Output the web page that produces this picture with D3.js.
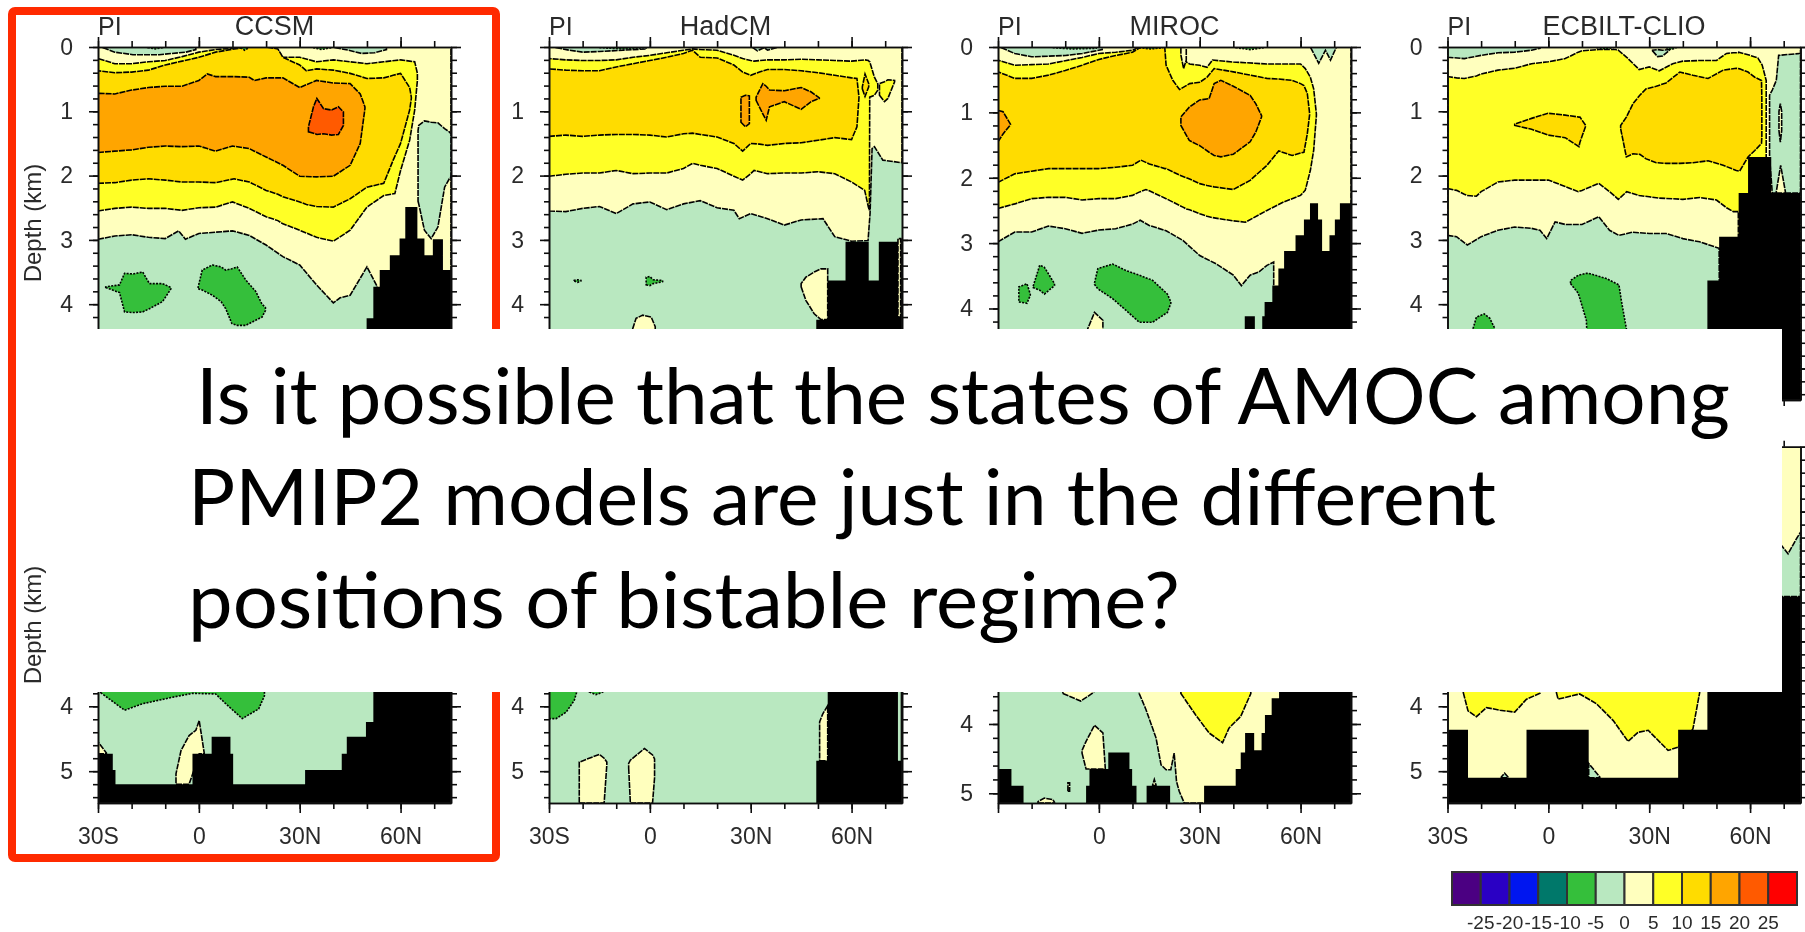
<!DOCTYPE html>
<html>
<head>
<meta charset="utf-8">
<script src="https://cdn.jsdelivr.net/npm/d3@7"></script>
<style>
  body { margin: 0; background: #fff; }
  svg { display: block; }
  text { font-family: "Liberation Sans", Arial, sans-serif; fill: #2b2b2b; }
  .slide text { font-family: Lato, sans-serif; fill: #000; }
</style>
</head>
<body>
<svg id="chart" width="1805" height="932"></svg>
<script>
// legend
const legendBreaks = [-25, -20, -15, -10, -5, 0, 5, 10, 15, 20, 25];
const latMajor = [-30, 0, 30, 60];
const depthMajor = [0, 1, 2, 3, 4, 5];
const noteLines = [
    'Is it possible that the states of AMOC among',
    'PMIP2 models are just in the different',
    'positions of bistable regime?'
];

// every region is a list of [lat, upper depth, lower depth]
// floors are [lat where the step starts, depth of the step]

// ---- CCSM, PI
const ccsmBand0 = [[-30,0,2.99],[-25,0,2.94],[-20,0,2.92],[-15,0,2.96],[-10,0,2.98],[-6,0,2.86],[-4,0,2.99],[0,0,2.90],[5,0,2.88],[10,0,2.86],[15,0,2.93],[20,0,3.08],[25,0,3.26],[30,0,3.39],[35,0,3.70],[40,0,3.98],[42,0,3.90],[45,0,3.86],[50,0,3.42],[53,0,3.72],[53.1,0,5.49],[75,0,5.49]];
const ccsmBand5 = [[-30,.18,2.55],[-25,.26,2.51],[-20,.26,2.49],[-15,.23,2.51],[-10,.21,2.51],[-5,.15,2.54],[0,.08,2.50],[5,.04,2.49],[10,.02,2.41],[15,0,2.51],[20,0,2.64],[23.5,.05,2.70],[25,.16,2.75],[30,.16,2.85],[35,.23,2.96],[40,.20,3.02],[45,.23,2.85],[50,.26,2.49],[55,.23,2.31],[58.3,.21,2.28],[60,.20,1.92],[62.7,.22,1.45],[64.2,.23,.98],[65,.41,.52]];
const ccsmBand10 = [[-30,.37,2.12],[-25,.40,2.11],[-20,.39,2.07],[-15,.36,2.05],[-10,.28,2.07],[-5,.22,2.10],[0,.16,2.10],[5,.08,2.11],[10.5,.03,2.05],[15,0,2.10],[20,0,2.23],[23.5,.03,2.29],[25,.16,2.33],[30,.28,2.41],[32,.37,2.45],[35,.34,2.48],[40,.36,2.49],[45,.41,2.36],[50,.49,2.18],[55,.48,2.12],[57.8,.44,1.76],[60,.41,1.50],[62.7,.63,.98],[63.2,.78,.80]];
const ccsmBand15 = [[-30,.72,1.64],[-25,.73,1.62],[-20,.67,1.60],[-15,.63,1.56],[-10,.61,1.54],[-5,.61,1.55],[0,.52,1.54],[2.5,.42,1.58],[5,.46,1.62],[10,.46,1.54],[15,.47,1.58],[16.5,.52,1.62],[20,.48,1.71],[25,.48,1.84],[30,.63,2.01],[35,.52,2.02],[40,.56,2.01],[45,.57,1.84],[48,.73,1.50],[49.4,.93,.96]];
const ccsmBand20 = [[32.6,1.24,1.32],[34.1,.93,1.34],[35.1,.80,1.36],[37.1,.96,1.35],[39.5,.98,1.37],[41.5,.93,1.36],[43,1.01,1.22]];
const ccsmArctic = [[65.2,1.30,2.40],[65.4,1.22,2.44],[67.1,1.15,2.85],[69.1,1.17,2.98],[71.1,1.18,2.80],[73.1,1.27,2.18],[74.5,1.32,2.05],[75,1.35,2.02]];
const ccsmLensA = [[-28.5,0,.01],[-25,0,.08],[-19.6,0,.12],[-11.8,0,.12],[-3.9,0,.08],[-.9,0,.04]];
const ccsmLensB = [[40.5,0,.01],[44.5,0,.05],[48.4,0,.10],[52.3,0,.09],[55.8,0,.04]];
const ccsmSurfaceA = [[-15.2,0,.01],[-13,0,.03],[-10.8,0,.01]];
const ccsmSurfaceB = [[12.4,0,.01],[13.6,0,.05],[14.9,0,.01]];
const ccsmSurfaceC = [[34,0,.01],[36.5,0,.04],[39.5,0,.01]];
const ccsmGreenA = [[-27.7,3.73,3.74],[-23.6,3.70,3.82],[-22.1,3.52,4.12],[-19.6,3.53,4.13],[-16.7,3.50,4.12],[-14.7,3.68,4.07],[-10.8,3.68,3.96],[-8.3,3.74,3.76]];
const ccsmGreenB = [[-.2,3.73,3.76],[1,3.47,3.78],[4,3.39,3.86],[6.6,3.42,3.96],[8,3.47,4.07],[9.8,3.45,4.30],[11.4,3.42,4.33],[13.9,3.62,4.33],[16.9,3.80,4.25],[18.8,4.00,4.20],[19.8,4.05,4.10]];
const ccsmFloor = [[-30,5.49],[49.9,4.22],[51.9,3.73],[53.8,3.47],[56.8,3.24],[59.7,2.98],[61.4,2.49],[65,2.98],[67.1,3.24],[69.6,2.99],[72.6,3.47]];

// ---- CCSM, lower panel
const ccsmLowGreen = [[-29.2,3.5,3.79],[-22.1,3.5,4.06],[-16.7,3.5,3.96],[-7.8,3.5,3.86],[-1.9,3.5,3.80],[5,3.5,3.81],[8,3.5,3.96],[12.9,3.5,4.19],[17.8,3.5,4.04],[19.5,3.5,3.84],[19.6,3.5,3.5]];
const ccsmLowPaleA = [[-30,4.55,4.73],[-28.5,4.65,4.73],[-27.5,4.72,4.73]];
const ccsmLowPaleB = [[-6.8,5.04,5.2],[-5.3,4.68,5.2],[-2.9,4.45,5.2],[-.9,4.37,4.9],[.1,4.22,4.73],[1.6,4.72,4.73]];
const ccsmLowFloor = [[-30,4.73],[-25.6,4.98],[-24.8,5.2],[-1.9,4.73],[3.8,4.47],[9.4,4.73],[10.2,5.2],[31.6,4.98],[42.5,4.73],[44,4.47],[49.7,4.24],[51.9,3.5]];

// ---- HadCM, PI
const hadBand0 = [[-30,0,2.55],[-25,0,2.56],[-20,0,2.51],[-15,0,2.48],[-10,0,2.59],[-5,0,2.44],[0,0,2.41],[5,0,2.53],[10,0,2.44],[15,0,2.39],[20,0,2.50],[25,0,2.54],[26.6,0,2.67],[30,0,2.59],[35,0,2.67],[40,0,2.77],[45,0,2.69],[51.5,0,2.67],[55,0,2.95],[60,0,3.02],[64.9,0,3.01],[65.5,0,2.59],[66.1,0,1.58],[66.8,0,1.55],[69.3,0,1.76],[75,0,1.80]];
const hadBand5 = [[-30,.18,2.01],[-25,.20,1.98],[-20,.21,1.96],[-15,.21,1.96],[-10,.20,1.92],[-5,.16,1.97],[0,.13,1.96],[5,.09,1.96],[10,.05,1.89],[12.7,.03,1.81],[15,.04,1.84],[20,.05,1.89],[25,.13,2.01],[27.6,.18,2.07],[30,.21,1.97],[31,.22,1.92],[35,.20,1.97],[40,.20,1.96],[45,.19,1.96],[50,.20,1.94],[55,.21,1.97],[60,.22,2.10],[63.9,.20,2.23],[65,.21,2.49],[65.3,.23,2.54],[65.4,.23,.78],[66.8,.47,.75],[67.8,.57,.67]];
const hadPatch = [[68.3,.57,.75],[69.8,.54,.85],[70.8,.51,.80],[72.8,.52,.54]];
const hadBand10 = [[-30,.34,1.39],[-25,.36,1.37],[-20,.37,1.39],[-15,.37,1.37],[-10,.31,1.36],[-5,.26,1.36],[0,.21,1.37],[5,.16,1.40],[10,.10,1.35],[12.7,.05,1.34],[15,.16,1.36],[20,.17,1.40],[25,.28,1.50],[27.6,.39,1.62],[30,.44,1.50],[32.6,.39,1.51],[35,.35,1.53],[40,.35,1.50],[45,.37,1.49],[50,.40,1.45],[55,.44,1.41],[60,.48,1.44],[61.6,.49,1.24],[62.2,.78,.79]];
const hadLens = [[63.2,.62,.65],[64,.42,.77],[65.1,.57,.62]];
const hadOrangeA = [[27.1,.78,1.17],[28.4,.75,1.24],[29.6,.76,1.19]];
const hadOrangeB = [[31.6,.78,.83],[33.6,.57,1.04],[34.6,.61,1.14],[35.6,.67,.93],[40,.68,.85],[45,.63,.97],[48,.70,.85],[50.4,.79,.80]];
const hadTop = [[-27.9,0,.01],[-24,0,.05],[-20,0,.08],[-15,0,.07],[-8,0,.05],[-1.1,0,.03]];
const hadTopB = [[30.6,0,.01],[32,0,.06],[34,0,.01],[35,0,.05],[37.6,0,.01]];
const hadSurface = [[-15,0,.01],[-8,0,.03],[-1.1,0,.01]];
const hadSpeckA = [[-22.5,3.63,3.64],[-21.5,3.62,3.66],[-20.5,3.63,3.64]];
const hadSpeckB = [[-1.1,3.58,3.70],[0,3.57,3.71],[1,3.62,3.68],[3.8,3.63,3.65]];
const hadPaleA = [[45,3.68,3.73],[46.4,3.58,3.94],[48.9,3.50,4.15],[50.9,3.45,4.24],[52.9,3.45,4.24]];
const hadPaleB = [[-5.1,4.38,4.5],[-4.1,4.22,4.5],[-2.1,4.17,4.6],[.4,4.20,4.6],[1.6,4.35,4.5]];
const hadSliver = [[73.8,2.98,4.2],[74.6,2.98,4.2]];
const hadFloor = [[-30,5.49],[49.5,4.24],[52.9,3.63],[58.2,3.03],[65.1,3.63],[68.1,3.03],[73.8,4.2],[74.6,2.98]];

// ---- HadCM, lower panel
const hadLowGreen = [[-30,3.5,4.19],[-27.9,3.5,4.19],[-24.9,3.5,4.09],[-22.5,3.5,3.91],[-21.8,3.5,3.79]];
const hadLowSpeck = [[-18,3.5,3.78],[-16,3.5,3.82],[-14,3.5,3.78]];
const hadLowPaleA = [[-21,4.86,5.49],[-15,4.74,5.49],[-13.6,4.80,5.49],[-12.8,4.86,4.9]];
const hadLowPaleB = [[-6.3,4.88,4.95],[-5.8,4.83,5.49],[-1.6,4.65,5.49],[.8,4.75,5.49],[1.4,4.81,5.1]];
const hadLowPaleC = [[50.5,4.24,4.84],[51.4,4.12,4.84],[52.9,3.99,4.84]];
const hadLowFloor = [[-30,5.49],[49.5,4.84],[52.9,3.5],[73.8,4.84],[74.6,3.5]];

// ---- MIROC, PI
const mirocBand0 = [[-30,0,2.98],[-25,0,2.83],[-20,0,2.83],[-15,0,2.74],[-10,0,2.78],[-5,0,2.85],[0,0,2.80],[5,0,2.78],[10,0,2.71],[12.3,0,2.65],[15,0,2.73],[20,0,2.81],[25,0,2.96],[30,0,3.19],[35,0,3.32],[40,0,3.49],[42.4,0,3.65],[45,0,3.49],[47.6,0,3.44],[50,0,3.34],[52,0,3.29],[52.1,0,5.4],[75,0,5.4]];
const mirocBand5 = [[-30,.20,2.47],[-25,.28,2.40],[-20,.27,2.32],[-15,.26,2.30],[-10,.21,2.30],[-5,.16,2.34],[0,.10,2.32],[5,.08,2.32],[10,.05,2.27],[12,0,2.22],[14,0,2.18],[15,0,2.20],[20,0,2.32],[25,0,2.45],[25.4,0,2.46],[26,.23,2.48],[27,.26,2.49],[30,.28,2.55],[32.2,.31,2.59],[33.8,.20,2.61],[40,.23,2.66],[43.6,.24,2.68],[50,.26,2.50],[55,.26,2.37],[60,.26,2.27],[61.4,.33,2.19],[62.9,.46,1.89],[63.9,.64,1.58],[64.7,1.02,1.05]];
const mirocNotch = [[24.4,0,.12],[25.2,0,.33],[26,0,.2]];
const mirocBand10 = [[-30,.38,2.07],[-25,.48,1.94],[-20,.48,1.90],[-15,.43,1.86],[-10,.36,1.86],[-5,.28,1.86],[0,.19,1.86],[5,.13,1.84],[10,.08,1.81],[12.5,0,1.73],[15,0,1.79],[19.6,0,1.86],[20,.28,1.86],[22,.51,1.91],[24,.65,1.96],[27,.56,2.02],[30,.54,2.09],[32.2,.46,2.12],[34.3,.33,2.14],[40,.38,2.18],[45,.43,2.04],[50,.48,1.81],[53.5,.49,1.59],[57.5,.51,1.66],[60,.56,1.62],[61,.59,1.61],[62,.71,1.33],[62.7,1.02,1.03]];
const mirocOrangeEdge = [[-30,.97,1.45],[-28.5,.99,1.33],[-26.3,1.18,1.19]];
const mirocOrange = [[24.4,1.07,1.20],[26.9,.92,1.43],[30,.81,1.51],[32.8,.79,1.61],[34.3,.56,1.66],[36.3,.51,1.68],[40,.60,1.64],[45,.74,1.45],[46.7,.87,1.30],[48.4,1.05,1.07]];
const mirocLens = [[-29,0,.01],[-25,0,.10],[-20,0,.15],[-15,0,.14],[-10,0,.13],[-5,0,.10],[1,0,.04]];
const mirocLensDark = [[-13.7,0,.01],[-8,0,.03],[-.8,0,.02]];
const mirocTopRight = [[63,0,.01],[65.4,0,.25],[67.4,0,.05],[68.9,0,.2],[70.6,0,.01]];
const mirocSurfaceA = [[12,0,.01],[15.5,0,.03],[19,0,.01]];
const mirocSurfaceB = [[40.7,0,.01],[45,0,.04],[49.1,0,.01]];
const mirocGreenA = [[-23.8,3.67,3.90],[-21.4,3.62,3.92],[-20.4,3.78,3.80]];
const mirocGreenB = [[-19.6,3.67,3.68],[-17.6,3.34,3.72],[-16.2,3.37,3.78],[-13.2,3.62,3.65]];
const mirocGreenC = [[-1.3,3.61,3.63],[-.3,3.39,3.70],[4.1,3.32,3.85],[8.1,3.42,4.03],[12,3.49,4.21],[16,3.57,4.21],[20.4,3.78,4.06],[21.4,3.90,3.92]];
const mirocPale = [[-3.3,4.31,4.6],[-1.3,4.06,4.6],[1.2,4.18,4.6]];
const mirocFloor = [[-30,5.4],[43.4,4.12],[46.4,5.4],[48.6,4.12],[49.3,3.90],[51.6,3.65],[53.4,3.39],[55.1,3.12],[58.5,2.88],[61,2.64],[62.8,2.39],[65.2,2.64],[66.4,3.12],[68.6,2.88],[70.2,2.64],[71.7,2.39]];

// ---- MIROC, lower panel
const mirocLowPale = [[12,3.3,3.56],[14,3.3,3.79],[17,3.3,4.2],[18.5,3.3,4.59],[20,3.3,4.66],[21.4,3.3,4.66],[22.4,3.3,4.42],[23.1,3.3,4.83],[23.9,3.3,4.97],[25.4,3.3,5.14],[75,3.3,5.14]];
const mirocLowYellow = [[24.4,3.3,3.56],[28.8,3.3,3.87],[32.8,3.3,4.13],[36.8,3.3,4.27],[38.7,3.3,4.06],[42.2,3.3,3.89],[45.2,3.3,3.56]];
const mirocLowPaleA = [[-10.7,3.3,3.56],[-5.4,3.3,3.67],[-2,3.3,3.56],[-.8,3.3,3.5]];
const mirocLowPaleB = [[-5,4.38,4.42],[-3.8,4.25,4.65],[-1.3,4.02,4.65],[1.2,4.13,4.65],[1.9,4.63,4.65]];
const mirocLowPaleC = [[-18.1,5.12,5.14],[-16.2,5.07,5.14],[-13.7,5.09,5.14],[-13.2,5.13,5.14]];
const mirocLowPaleD = [[-9.2,4.85,4.97],[-8.7,4.85,4.97]];
const mirocLowPaleE = [[16,4.88,4.89],[16.5,4.80,4.89],[17,4.88,4.89]];
const mirocLowFloor = [[-30,4.65],[-26,4.89],[-22.4,5.14],[-3.8,4.89],[-2.8,4.65],[2.8,4.41],[9.1,4.65],[9.9,4.89],[11.2,5.14],[14.2,4.89],[21.2,5.14],[31.3,4.89],[40.7,4.65],[42.2,4.41],[43.5,4.13],[46.2,4.38],[48.4,4.13],[49.4,3.87],[51.4,3.63],[53.6,3.3]];

// ---- ECBILT-CLIO, PI
const ecbBand0 = [[-30,0,2.93],[-27.3,0,2.95],[-24.1,0,3.08],[-20,0,2.95],[-15,0,2.85],[-10,0,2.80],[-5,0,2.82],[-2.5,0,2.85],[-.5,0,2.98],[2,0,2.72],[5,0,2.76],[10,0,2.76],[15,0,2.64],[18.2,0,2.85],[21,0,2.93],[25,0,2.88],[30,0,2.90],[35,0,2.90],[40,0,2.98],[45,0,3.03],[50.8,0,3.13],[51,0,5.49],[75,0,5.49]];
const ecbBand5 = [[-30,.46,2.20],[-27.3,.48,2.23],[-25,.49,2.29],[-24.1,.48,2.31],[-21.4,.45,2.32],[-20,.42,2.25],[-15,.36,2.10],[-10,.33,2.07],[-5,.26,2.07],[0,.23,2.07],[5,.18,2.17],[8.9,.08,2.25],[10,.06,2.23],[15,.04,2.12],[18.2,.04,2.25],[20,.04,2.33],[20.8,.05,2.37],[23.3,.16,2.25],[27,.35,2.31],[30,.31,2.33],[33,.37,2.35],[37,.26,2.36],[40,.22,2.37],[45,.21,2.34],[50,.21,2.38],[53,.10,2.50],[55,.09,2.56],[56.5,.09,2.56],[56.6,.08,5.49],[60,.13,5.49],[62.3,.17,5.49],[63.6,.28,5.49],[64.8,.52,5.49]];
const ecbGold = [[21.5,1.22,1.27],[23.2,1.09,1.71],[25.2,.88,1.66],[27.2,.75,1.67],[29.1,.65,1.74],[32.1,.61,1.80],[35,.56,1.81],[39.1,.39,1.81],[43,.44,1.80],[47.5,.49,1.77],[52,.36,1.84],[55.9,.33,1.92],[56.9,.34,1.93],[59.4,.39,1.71],[61.4,.47,1.61],[63.4,.52,1.50],[63.5,.78,1.40]];
const ecbGoldSmall = [[-10,1.20,1.22],[-5,1.11,1.28],[-.1,1.03,1.37],[5,1.06,1.41],[9.1,1.09,1.55],[9.4,1.09,1.48],[11.1,1.22,1.23]];
const ecbArctic = [[65.8,.75,1.71],[66.6,.67,2.27],[67.8,.52,2.27],[68.5,.13,2.27],[74.8,.10,2.27],[75,.10,2.27]];
const ecbSpike = [[67.8,2.25,2.27],[69.1,1.84,2.27],[70.5,2.25,2.27]];
const ecbSlit = [[68.6,1.0,1.3],[69,.88,1.48],[69.4,1.0,1.3]];
const ecbLens = [[-30,0,.16],[-25,0,.18],[-20,0,.13],[-15,0,.09],[-10,0,.08],[-5,0,.05],[-2.5,0,.02]];
const ecbLensB = [[31,.05,.06],[32.5,.04,.15],[34,.05,.14],[36,.04,.05]];
const ecbSurfaceA = [[14.3,0,.01],[17,0,.03],[19.3,0,.01]];
const ecbSurfaceB = [[35,0,.01],[36.5,0,.04],[38,0,.01]];
const ecbGreenC = [[6.6,3.63,3.68],[8.9,3.55,3.83],[11.3,3.52,4.25],[12,3.52,5],[17.2,3.60,5],[21,3.70,5],[21.7,3.94,5],[23.2,4.38,5]];
const ecbGreenD = [[-22.4,4.38,5],[-21.4,4.20,5],[-19.1,4.15,5],[-17.4,4.22,5],[-15.9,4.38,5]];
const ecbFloor = [[-30,5.49],[47.3,3.63],[50.8,2.95],[56.6,2.27],[59.4,1.71],[66.3,2.27]];

// ---- ECBILT-CLIO, lower panel
const ecbLowYellowA = [[-25.3,3.5,3.79],[-23.9,3.5,4.07],[-21.4,3.5,4.16],[-18.4,3.5,4.02],[-14.4,3.5,4.06],[-10,3.5,4.09],[-6.5,3.5,3.89],[-2.5,3.5,3.80]];
const ecbLowYellowB = [[2.4,3.5,3.79],[2.9,3.5,3.89],[9.3,3.5,3.81],[14.3,3.5,3.96],[19.3,3.5,4.22],[23.7,3.5,4.54],[26.7,3.5,4.40],[29.7,3.5,4.37],[35.6,3.5,4.68],[38.6,3.5,4.63],[43,3.5,4.35],[45,3.5,3.79]];
const ecbLowGreenA = [[12,4.88,5.1],[15.3,5.09,5.1]];
const ecbLowGreenB = [[-14,5.09,5.1],[-13,5.03,5.1],[-12,5.09,5.1]];
const ecbLowEdge = [[68,1.45,2.31],[69.3,1.52,2.31],[71.3,1.65,2.31],[74,1.40,2.31],[75,1.32,2.31]];
const ecbLowFloor = [[-30,4.36],[-23.9,5.1],[-6.5,4.36],[12,5.1],[38.6,4.36],[47.3,2.31]];

// palette and layout
const legendColors = ['#4b0082', '#2a00c4', '#0014f0', '#00786a', '#36bf3a', '#b9e8c0',
                      '#ffffbe', '#ffff28', '#ffdc00', '#ffa500', '#ff5a00', '#ff0000'];
const bandColor = d3.scaleThreshold().domain(legendBreaks).range(legendColors);

const LIGHT = -2.5, GREEN = -7.5, PALE = 2.5, YELLOW = 7.5, GOLD = 12.5, ORANGE = 17.5, RED = 22.5;
const PLOT_W = 353;
const UPPER_LABELS = [0, 1, 2, 3, 4];
const LOWER_LABELS = [4, 5];

const panels = [
    { title: 'CCSM', left: 98, top: 47, bottom: 400, maxDepth: 5.49, base: LIGHT, floor: ccsmFloor, depthLabels: UPPER_LABELS,
      regions: [[PALE, ccsmBand0], [YELLOW, ccsmBand5], [GOLD, ccsmBand10], [ORANGE, ccsmBand15], [RED, ccsmBand20],
                [LIGHT, ccsmArctic], [LIGHT, ccsmLensA], [LIGHT, ccsmLensB], [GREEN, ccsmSurfaceA], [GREEN, ccsmSurfaceB], [GREEN, ccsmSurfaceC], [GREEN, ccsmGreenA], [GREEN, ccsmGreenB]] },
    { title: 'HadCM', left: 549, top: 47, bottom: 400, maxDepth: 5.49, base: LIGHT, floor: hadFloor, depthLabels: [1, 2, 3, 4],
      regions: [[PALE, hadBand0], [YELLOW, hadBand5], [YELLOW, hadPatch], [GOLD, hadBand10], [GOLD, hadLens], [ORANGE, hadOrangeA], [ORANGE, hadOrangeB],
                [LIGHT, hadTop], [LIGHT, hadTopB], [GREEN, hadSurface], [GREEN, hadSpeckA], [GREEN, hadSpeckB], [PALE, hadPaleA], [PALE, hadPaleB], [PALE, hadSliver]] },
    { title: 'MIROC', left: 998, top: 47, bottom: 400, maxDepth: 5.4, base: LIGHT, floor: mirocFloor, depthLabels: UPPER_LABELS,
      regions: [[PALE, mirocBand0], [YELLOW, mirocBand5], [PALE, mirocNotch], [GOLD, mirocBand10], [ORANGE, mirocOrangeEdge], [ORANGE, mirocOrange],
                [LIGHT, mirocLens], [GREEN, mirocLensDark], [LIGHT, mirocTopRight], [GREEN, mirocSurfaceA], [GREEN, mirocSurfaceB], [GREEN, mirocGreenA], [GREEN, mirocGreenB], [GREEN, mirocGreenC], [PALE, mirocPale]] },
    { title: 'ECBILT-CLIO', left: 1447.5, top: 47, bottom: 400, maxDepth: 5.49, base: LIGHT, floor: ecbFloor, depthLabels: UPPER_LABELS,
      regions: [[PALE, ecbBand0], [YELLOW, ecbBand5], [GOLD, ecbGold], [GOLD, ecbGoldSmall], [LIGHT, ecbArctic], [PALE, ecbSpike], [PALE, ecbSlit],
                [LIGHT, ecbLens], [LIGHT, ecbLensB], [GREEN, ecbSurfaceA], [GREEN, ecbSurfaceB], [GREEN, ecbGreenC], [GREEN, ecbGreenD]] },
    { left: 98, top: 446.7, bottom: 803, maxDepth: 5.49, base: LIGHT, floor: ccsmLowFloor, depthLabels: LOWER_LABELS, latLabels: latMajor,
      regions: [[GREEN, ccsmLowGreen], [PALE, ccsmLowPaleA], [PALE, ccsmLowPaleB]] },
    { left: 549, top: 446.7, bottom: 803, maxDepth: 5.49, base: LIGHT, floor: hadLowFloor, depthLabels: LOWER_LABELS, latLabels: latMajor,
      regions: [[GREEN, hadLowGreen], [GREEN, hadLowSpeck], [PALE, hadLowPaleA], [PALE, hadLowPaleB], [PALE, hadLowPaleC]] },
    { left: 998, top: 446.7, bottom: 803, maxDepth: 5.14, base: LIGHT, floor: mirocLowFloor, depthLabels: LOWER_LABELS, latLabels: [0, 30, 60],
      regions: [[PALE, mirocLowPale], [YELLOW, mirocLowYellow], [PALE, mirocLowPaleA], [PALE, mirocLowPaleB], [PALE, mirocLowPaleC], [PALE, mirocLowPaleD], [PALE, mirocLowPaleE]] },
    { left: 1447.5, top: 446.7, bottom: 803, maxDepth: 5.49, base: PALE, floor: ecbLowFloor, depthLabels: LOWER_LABELS, latLabels: latMajor,
      regions: [[YELLOW, ecbLowYellowA], [YELLOW, ecbLowYellowB], [LIGHT, ecbLowGreenA], [LIGHT, ecbLowGreenB], [LIGHT, ecbLowEdge]] }
];

const svg = d3.select('#chart');

const defs = svg.append('defs');
defs.append('filter')
    .attr('id', 'soft')
    .attr('filterUnits', 'userSpaceOnUse')
    .attr('x', 0).attr('y', 0).attr('width', 1805).attr('height', 932)
    .append('feGaussianBlur')
    .attr('stdDeviation', 0.65);

const charts = svg.append('g').attr('filter', 'url(#soft)');

const latLabel = d => d === 0 ? '0' : d < 0 ? `${-d}S` : `${d}N`;

function styleAxis(g, size) {
    g.selectAll('path, line')
        .attr('stroke', '#111')
        .attr('stroke-width', 1.6);
    g.selectAll('text')
        .filter(function() { return !this.textContent; })
        .remove();
    g.selectAll('text').style('font-size', `${size}px`);
}

function drawPanel(p, i) {
    const x = d3.scaleLinear().domain([-30, 75]).range([p.left, p.left + PLOT_W]);
    const y = d3.scaleLinear().domain([0, p.maxDepth]).range([p.top, p.bottom]);
    const clipId = `plot-${i}`;

    defs.append('clipPath')
        .attr('id', clipId)
        .append('rect')
        .attr('x', x(-30))
        .attr('y', y(0))
        .attr('width', PLOT_W)
        .attr('height', p.bottom - p.top);

    const g = charts.append('g');
    const plot = g.append('g').attr('clip-path', `url(#${clipId})`);

    plot.append('rect')
        .attr('x', x(-30))
        .attr('y', y(0))
        .attr('width', PLOT_W)
        .attr('height', p.bottom - p.top)
        .attr('fill', bandColor(p.base));

    const region = d3.area()
        .x(d => x(d[0]))
        .y0(d => y(d[1]))
        .y1(d => y(d[2]));

    plot.selectAll('.region')
        .data(p.regions)
        .enter()
        .append('path')
        .classed('region', true)
        .attr('d', d => region(d[1]))
        .attr('fill', d => bandColor(d[0]))
        .attr('stroke', '#000')
        .attr('stroke-width', 1.6)
        .attr('stroke-dasharray', d => d[0] === GREEN ? '2 1.3' : '6 1');

    // bathymetry, stepped like the model grid
    const lastStep = p.floor[p.floor.length - 1][1];
    plot.append('path')
        .attr('d', d3.area()
            .curve(d3.curveStepAfter)
            .x(d => x(d[0]))
            .y0(p.bottom)
            .y1(d => y(d[1]))(p.floor.concat([[75, lastStep]])))
        .attr('fill', '#000');

    const latMinor = d3.range(-30, 71, 10);
    const depthMinor = d3.range(0, p.maxDepth, 0.2);

    g.append('g').attr('transform', `translate(0, ${p.top})`)
        .call(d3.axisTop(x).tickValues(latMinor).tickSize(6).tickSizeOuter(0).tickFormat(''))
        .call(styleAxis, 1);
    g.append('g').attr('transform', `translate(0, ${p.top})`)
        .call(d3.axisTop(x).tickValues(latMajor).tickSize(10).tickSizeOuter(0).tickFormat(''))
        .call(styleAxis, 1);

    g.append('g').attr('transform', `translate(0, ${p.bottom})`)
        .call(d3.axisBottom(x).tickValues(latMinor).tickSize(6).tickSizeOuter(0).tickFormat(''))
        .call(styleAxis, 1);
    const latShown = p.latLabels || [];
    const latAxis = d3.axisBottom(x)
        .tickValues(latMajor)
        .tickSize(10)
        .tickPadding(15)
        .tickSizeOuter(0)
        .tickFormat(d => latShown.includes(d) ? latLabel(d) : '');
    g.append('g').attr('transform', `translate(0, ${p.bottom})`)
        .call(latAxis)
        .call(styleAxis, 23);

    const right = x(75);
    const depthTicks = depthMajor.filter(d => d <= p.maxDepth);
    g.append('g').attr('transform', `translate(${p.left}, 0)`)
        .call(d3.axisLeft(y).tickValues(depthMinor).tickSize(5).tickSizeOuter(0).tickFormat(''))
        .call(styleAxis, 1);
    const depthAxis = d3.axisLeft(y)
        .tickValues(depthTicks)
        .tickSize(9)
        .tickPadding(16)
        .tickSizeOuter(0)
        .tickFormat(d => p.depthLabels.includes(d) ? d : '');
    g.append('g').attr('transform', `translate(${p.left}, 0)`)
        .call(depthAxis)
        .call(styleAxis, 23);

    g.append('g').attr('transform', `translate(${right}, 0)`)
        .call(d3.axisRight(y).tickValues(depthMinor).tickSize(6).tickSizeOuter(0).tickFormat(''))
        .call(styleAxis, 1);
    g.append('g').attr('transform', `translate(${right}, 0)`)
        .call(d3.axisRight(y).tickValues(depthTicks).tickSize(10).tickSizeOuter(0).tickFormat(''))
        .call(styleAxis, 1);

    if (p.title) {
        g.append('text')
            .attr('x', p.left)
            .attr('y', 35)
            .style('font-size', '25px')
            .text('PI');
        g.append('text')
            .attr('x', p.left + PLOT_W / 2)
            .attr('y', 35)
            .attr('text-anchor', 'middle')
            .style('font-size', '27px')
            .text(p.title);
    }
}

panels.forEach(drawPanel);

// frame round the first column, then the note pasted over the figure
svg.append('rect')
    .attr('x', 12)
    .attr('y', 11)
    .attr('width', 484)
    .attr('height', 847)
    .attr('rx', 3)
    .attr('fill', 'none')
    .attr('stroke', '#ff2a00')
    .attr('stroke-width', 8);

const slide = svg.append('g').classed('slide', true);

slide.append('rect')
    .attr('x', 45)
    .attr('y', 329)
    .attr('width', 1737)
    .attr('height', 363)
    .attr('fill', '#fff');

const noteX = [196, 188, 188];
const noteY = [424, 525, 628];
const noteW = [1534, 1308, 992];

slide.selectAll('text')
    .data(noteLines)
    .enter()
    .append('text')
    .attr('x', (d, i) => noteX[i])
    .attr('y', (d, i) => noteY[i])
    .attr('textLength', (d, i) => noteW[i])
    .attr('lengthAdjust', 'spacingAndGlyphs')
    .style('font-size', '78px')
    .text(d => d);

// axis titles stay clear of the note
const labels = svg.append('g').attr('filter', 'url(#soft)');
[223, 625].forEach(cy => {
    labels.append('text')
        .attr('transform', `translate(41, ${cy}) rotate(-90)`)
        .attr('text-anchor', 'middle')
        .style('font-size', '24px')
        .text('Depth (km)');
});

// colour key
const legendX = d3.scaleBand()
    .domain(d3.range(legendColors.length))
    .range([1452, 1797]);
const legendEdge = d3.scalePoint()
    .domain(legendBreaks)
    .range([legendX(1), legendX(11)]);

const legend = labels.append('g');

legend.selectAll('rect')
    .data(legendColors)
    .enter()
    .append('rect')
    .attr('x', (d, i) => legendX(i))
    .attr('y', 872)
    .attr('width', legendX.bandwidth())
    .attr('height', 33)
    .attr('fill', d => d)
    .attr('stroke', '#333')
    .attr('stroke-width', 2);

legend.selectAll('text')
    .data(legendBreaks)
    .enter()
    .append('text')
    .attr('x', d => legendEdge(d))
    .attr('y', 929)
    .attr('text-anchor', 'middle')
    .style('font-size', '19px')
    .text(d => d);
</script>
</body>
</html>
